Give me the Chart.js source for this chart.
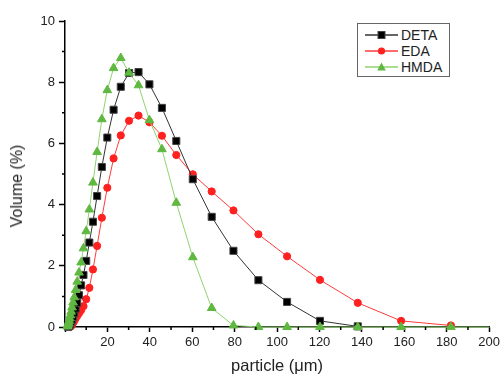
<!DOCTYPE html>
<html>
<head>
<meta charset="utf-8">
<script src="https://cdn.jsdelivr.net/npm/chart.js@4/dist/chart.umd.min.js"></script>
<style>
  html, body { margin: 0; padding: 0; background: #fff; }
  #wrap { position: relative; width: 503px; height: 376px; }
  #legend { position: absolute; left: 357px; top: 23px; width: 91px; height: 52px;
            border: 1px solid #666; background: #fff; font-family: "Liberation Sans", Arial, sans-serif;
            font-size: 14px; color: #222; }
  .row { position: absolute; left: 0; height: 16px; width: 91px; }
  .row svg { position: absolute; left: 7px; top: 0; }
  .row span { position: absolute; left: 43px; top: 0; line-height: 16px; }
  #ytitle { position: absolute; left: 17px; top: 186px; width: 0; height: 0; }
  #ytitle span { position: absolute; left: 0; top: 0; transform: translate(-50%, -50%) rotate(-90deg);
                 white-space: nowrap; font-family: "Liberation Sans", Arial, sans-serif; font-size: 16px;
                 color: #222; line-height: 18px; }
</style>
</head>
<body>
<div id="wrap">
  <canvas id="c" width="503" height="376"></canvas>
  <div id="legend"></div>
  <div id="ytitle"><span>Volume (%)</span></div>
</div>
<script>
// particle size bins (µm)
const sizes = [1.10, 1.26, 1.45, 1.66, 1.91, 2.19, 2.51, 2.88, 3.31, 3.80,
               4.37, 5.01, 5.75, 6.61, 7.59, 8.71, 10.00, 11.48, 13.18, 15.14,
               17.38, 19.95, 22.91, 26.30, 30.20, 34.67, 39.81, 45.71, 52.48, 60.26,
               69.18, 79.43, 91.20, 104.71, 120.23, 138.04, 158.49, 181.97, 208.93];
// Volume (%)
const deta = [null, null, 0.01, 0.02, 0.04, 0.07, 0.11, 0.17, 0.24, 0.33,
              0.45, 0.60, 0.79, 1.04, 1.36, 1.70, 2.16, 2.76, 3.44, 4.28,
              5.23, 6.19, 7.10, 7.85, 8.30, 8.33, 7.93, 7.16, 6.08, 4.83,
              3.60, 2.49, 1.53, 0.82, 0.20, 0.02, null, null, null];
const eda  = [null, null, null, null, null, null, 0.01, 0.03, 0.07, 0.13,
              0.20, 0.28, 0.36, 0.45, 0.55, 0.68, 0.91, 1.28, 1.88, 2.65,
              3.57, 4.55, 5.51, 6.26, 6.74, 6.91, 6.69, 6.25, 5.62, 4.99,
              4.43, 3.81, 3.03, 2.31, 1.54, 0.79, 0.20, 0.05, null];
const hmda = [0.02, 0.04, 0.08, 0.13, 0.20, 0.28, 0.38, 0.50, 0.64, 0.80,
              0.97, 1.21, 1.48, 1.78, 2.11, 2.57, 3.13, 3.84, 4.72, 5.72,
              6.79, 7.74, 8.46, 8.79, 8.31, 7.90, 6.76, 5.81, 4.06, 2.28,
              0.62, 0.05, 0, 0, 0, 0, 0, 0, 0];

const seriesNames = ['DETA', 'EDA', 'HMDA'];
const xMinorTicks = [10, 30, 50, 70, 90, 110, 130, 150, 170, 190];
const yMinorTicks = [1, 3, 5, 7, 9];

function pts(vals) {
  return sizes.map((s, i) => ({ x: s, y: vals[i] }))
              .filter(p => p.y !== null && p.y !== undefined);
}

const styles = [
  { line: '#333333', fill: '#000000', stroke: '#444444', shape: 'rect', r: 5, order: 1 },
  { line: '#ff3b3b', fill: '#ff2020', stroke: '#ff2020', shape: 'circle', r: 3.6, order: 2 },
  { line: '#8fd36f', fill: '#5fb840', stroke: '#5fb840', shape: 'triangle', r: 5, order: 0 }
];
const values = [deta, eda, hmda];

const FONT = '"Liberation Sans", Arial, sans-serif';

const minorTicks = {
  id: 'minorTicks',
  afterDatasetsDraw(chart) {
    const ctx = chart.ctx;
    const xs = chart.scales.x, ys = chart.scales.y;
    ctx.save();
    ctx.strokeStyle = '#000';
    ctx.lineWidth = 1.5;
    ctx.beginPath();
    xMinorTicks.forEach(v => {
      const px = xs.getPixelForValue(v);
      ctx.moveTo(px, ys.bottom);
      ctx.lineTo(px, ys.bottom + 3);
    });
    yMinorTicks.forEach(v => {
      const py = ys.getPixelForValue(v);
      ctx.moveTo(xs.left, py);
      ctx.lineTo(xs.left - 3, py);
    });
    ctx.stroke();
    ctx.restore();
  }
};

new Chart(document.getElementById('c'), {
  type: 'line',
  data: {
    datasets: seriesNames.map((name, k) => ({
      label: name,
      data: pts(values[k]),
      borderColor: styles[k].line,
      borderWidth: 1,
      backgroundColor: styles[k].fill,
      pointBackgroundColor: styles[k].fill,
      pointBorderColor: styles[k].stroke,
      pointBorderWidth: 1,
      pointStyle: styles[k].shape,
      pointRadius: styles[k].r,
      pointHoverRadius: styles[k].r,
      tension: 0,
      fill: false,
      order: styles[k].order,
      clip: { left: 10, top: 10, right: 0, bottom: 10 }
    }))
  },
  options: {
    responsive: false,
    animation: false,
    events: [],
    layout: { padding: { left: 0, top: 21, right: 12, bottom: 0 } },
    plugins: { legend: { display: false }, tooltip: { enabled: false } },
    scales: {
      x: {
        type: 'linear', min: 0, max: 200,
        ticks: { stepSize: 20, autoSkip: false, maxRotation: 0, padding: 3,
                 color: '#222', font: { family: FONT, size: 13 },
                 callback: v => (v === 0 ? '' : v) },
        grid: { drawOnChartArea: false, drawTicks: true, tickLength: 5, tickColor: '#000', tickWidth: 1.5 },
        border: { display: true, color: '#000', width: 1.5 },
        title: { display: true, text: 'particle (μm)', color: '#222',
                 font: { family: FONT, size: 16.5 }, padding: { top: 2, bottom: 0 } },
        afterFit: s => { s.height = 49; }
      },
      y: {
        min: 0, max: 10,
        ticks: { stepSize: 2, padding: 4, color: '#222', font: { family: FONT, size: 13 } },
        grid: { drawOnChartArea: false, drawTicks: true, tickLength: 6, tickColor: '#000', tickWidth: 1.5 },
        border: { display: true, color: '#000', width: 1.5 },
        title: { display: false },
        afterFit: s => { s.width = 65; }
      }
    }
  },
  plugins: [minorTicks]
});

// legend (HTML, real text)
const legend = document.getElementById('legend');
seriesNames.forEach((name, k) => {
  const st = styles[k];
  const row = document.createElement('div');
  row.className = 'row';
  row.style.top = (3 + k * 16) + 'px';
  let marker;
  if (st.shape === 'rect') marker = '<rect x="13" y="4.5" width="7" height="7" fill="' + st.fill + '" stroke="' + st.stroke + '" stroke-width="1"/>';
  else if (st.shape === 'circle') marker = '<circle cx="16.5" cy="8" r="3.6" fill="' + st.fill + '"/>';
  else marker = '<polygon points="16.5,3.5 20.8,11.5 12.2,11.5" fill="' + st.fill + '"/>';
  row.innerHTML = '<svg width="34" height="16"><line x1="0" y1="8" x2="33" y2="8" stroke="' + st.line + '" stroke-width="1.3"/>' + marker + '</svg><span>' + name + '</span>';
  legend.appendChild(row);
});
</script>
</body>
</html>
